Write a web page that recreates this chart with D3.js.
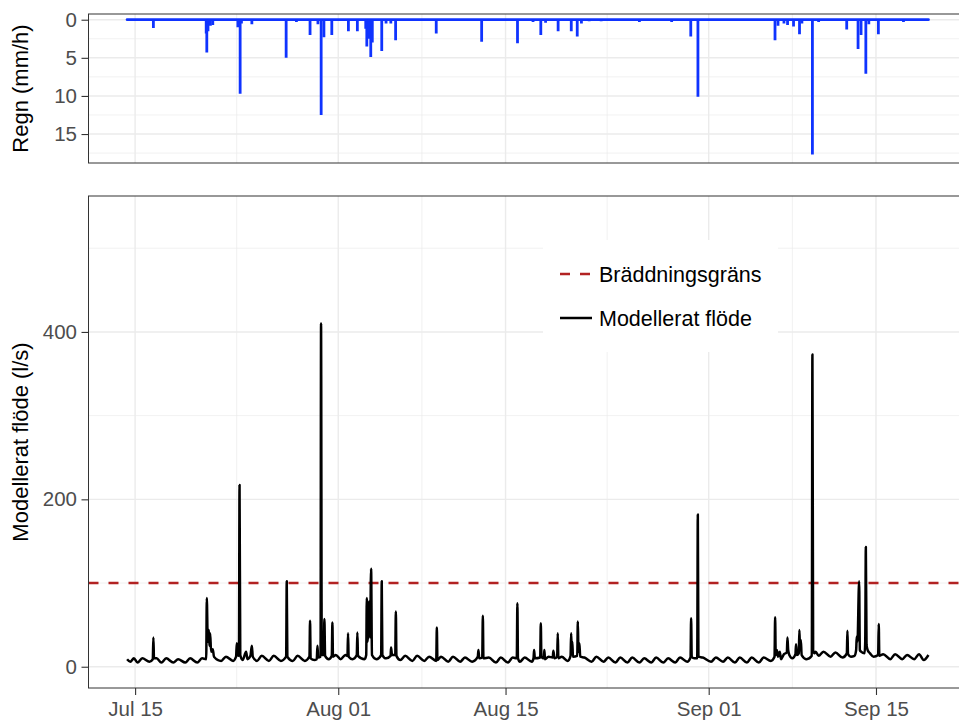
<!DOCTYPE html>
<html>
<head>
<meta charset="utf-8">
<script src="https://cdn.jsdelivr.net/npm/d3@7"></script>
<style>
  html, body { margin: 0; padding: 0; background: #fff; }
  svg { display: block; font-family: "Liberation Sans", Arial, Helvetica, sans-serif; }
</style>
</head>
<body>
<svg id="chart" width="959" height="722"></svg>
<script>
// Days counted from Jul 15 00:00
const rainSpan = [-0.67, 66.39];
// [day, mm/h]
const rainEvents = [
  [1.53, 1.1], [5.95, 1.8], [6.0, 4.3], [6.1, 1.5], [6.3, 0.8], [6.5, 0.7], [8.6, 1.0], [8.79, 9.7],
  [8.9, 0.5], [9.77, 0.6], [12.64, 5.0], [13.5, 0.3], [14.64, 2.0], [15.3, 0.6], [15.57, 12.5],
  [15.8, 2.3], [16.46, 2.0], [17.85, 1.5], [18.6, 1.5], [19.3, 1.2], [19.39, 3.5], [19.55, 2.5],
  [19.72, 4.9], [19.85, 3.0], [20.64, 4.1], [21.0, 0.5], [21.4, 0.5], [21.8, 2.7], [25.2, 1.8],
  [29.0, 2.9], [32.0, 3.1], [33.3, 0.3], [33.95, 2.0], [34.35, 0.4], [35.4, 1.5], [36.5, 1.5],
  [37.0, 2.2], [37.35, 0.5], [38.0, 0.2], [39.0, 0.2], [42.2, 0.3], [44.9, 0.3], [46.5, 2.2],
  [47.1, 10.1], [53.55, 2.7], [53.8, 0.8], [54.3, 0.5], [54.6, 0.7], [55.1, 0.9], [55.6, 1.9],
  [55.8, 0.5], [56.68, 17.7], [57.2, 0.3], [59.55, 1.3], [60.5, 3.85], [60.75, 2.0], [61.15, 7.1],
  [61.4, 0.6], [62.2, 1.9], [64.3, 0.3]
];
// [day, l/s]
const flowSeries = [
  [-0.67, 9], [-0.4, 6], [-0.1, 10], [0.2, 5], [0.6, 10],
  [1.2, 6], [1.48, 9], [1.53, 35], [1.58, 10], [1.8, 10], [2.2, 5], [2.6, 10], [3.2, 5], [3.6, 9],
  [4.2, 5], [4.6, 10], [5.2, 5], [5.6, 10],
  [5.95, 9], [6.0, 82], [6.08, 30], [6.17, 44], [6.22, 25], [6.28, 40], [6.36, 18], [6.5, 21], [6.6, 12],
  [7.2, 7], [7.6, 12], [8.2, 7], [8.45, 12], [8.51, 28], [8.6, 14], [8.69, 13], [8.74, 217], [8.8, 14],
  [9.0, 8], [9.29, 18], [9.4, 9], [9.65, 13], [9.77, 25], [9.85, 12],
  [10.2, 7], [10.6, 13], [11.2, 7], [11.6, 13], [12.2, 7], [12.64, 12], [12.69, 102], [12.74, 12],
  [13.2, 7], [13.6, 13], [14.2, 7], [14.59, 12], [14.64, 55], [14.69, 10], [15.0, 8], [15.2, 9],
  [15.26, 25], [15.32, 11], [15.52, 12], [15.56, 410], [15.62, 14], [15.79, 14], [15.84, 57], [15.9, 13],
  [16.2, 9], [16.46, 13], [16.51, 53], [16.56, 12], [16.8, 14], [17.2, 9], [17.6, 14], [17.77, 13],
  [17.82, 40], [17.87, 12], [18.2, 9], [18.55, 14], [18.6, 41], [18.65, 13],
  [19.2, 9], [19.34, 14], [19.39, 82], [19.45, 30], [19.58, 78], [19.66, 35], [19.75, 117], [19.82, 14],
  [20.2, 9], [20.59, 14], [20.64, 102], [20.69, 14], [21.0, 10], [21.38, 13], [21.42, 23], [21.5, 14],
  [21.77, 14], [21.82, 66], [21.87, 13],
  [22.2, 8], [22.6, 13], [23.2, 7], [23.6, 13], [24.2, 7], [24.6, 12], [25.2, 7], [25.25, 47], [25.3, 8],
  [25.6, 12], [26.2, 6], [26.6, 12], [27.2, 6], [27.6, 11], [28.2, 6], [28.68, 12], [28.73, 20], [28.8, 10],
  [29.05, 11], [29.1, 61], [29.15, 10], [29.6, 11], [30.2, 5], [30.6, 11],
  [31.2, 5], [31.6, 11], [31.94, 10], [31.99, 76], [32.04, 10], [32.2, 6], [32.6, 11],
  [33.2, 6], [33.34, 10], [33.39, 20], [33.45, 10], [33.9, 11], [33.95, 52], [34.0, 12], [34.2, 10],
  [34.25, 20], [34.3, 9], [34.6, 12], [34.95, 11], [35.0, 19], [35.1, 10], [35.32, 12], [35.37, 40],
  [35.42, 10], [35.7, 12], [36.2, 7], [36.44, 13], [36.49, 40], [36.54, 20], [36.59, 30], [36.64, 12],
  [37.0, 13], [37.05, 54], [37.1, 18], [37.18, 28], [37.25, 12], [37.6, 11],
  [38.2, 6], [38.6, 12], [39.2, 6], [39.6, 11], [40.2, 5], [40.6, 11], [41.2, 5], [41.6, 11],
  [42.2, 5], [42.6, 10], [43.2, 5], [43.6, 11], [44.2, 5], [44.6, 10], [45.2, 5], [45.6, 11],
  [46.2, 6], [46.48, 11], [46.53, 58], [46.58, 12], [46.8, 10], [47.04, 10], [47.09, 182], [47.14, 12],
  [47.5, 11], [48.2, 6], [48.6, 11], [49.2, 6], [49.6, 11], [50.2, 5], [50.6, 11], [51.2, 5], [51.6, 11],
  [52.2, 5], [52.6, 11],
  [53.2, 7], [53.51, 12], [53.56, 59], [53.61, 14], [53.7, 20], [53.8, 12], [53.95, 18], [54.05, 9],
  [54.3, 15], [54.54, 17], [54.59, 35], [54.65, 20], [54.75, 14], [55.0, 10], [55.26, 15], [55.31, 27],
  [55.38, 14], [55.54, 16], [55.59, 44], [55.65, 20], [55.71, 32], [55.78, 14], [56.2, 9],
  [56.63, 13], [56.68, 373], [56.74, 20], [56.85, 16], [56.95, 18],
  [57.2, 13], [57.6, 18], [58.2, 12], [58.6, 17], [59.2, 11], [59.56, 16], [59.61, 43], [59.66, 15],
  [59.9, 12], [60.2, 13], [60.34, 20], [60.39, 36], [60.45, 30], [60.59, 102], [60.65, 20], [60.75, 18],
  [61.05, 16], [61.1, 30], [61.15, 143], [61.21, 26], [61.3, 20], [61.5, 16], [61.8, 12],
  [62.18, 14], [62.23, 51], [62.28, 13], [62.6, 15], [63.2, 9], [63.6, 15], [64.2, 9], [64.6, 14],
  [65.2, 9], [65.6, 15], [66.0, 8], [66.39, 14]
];
const threshold = 100;
const xTickDays = [0, 17, 31, 48, 62];          // Jul 15, Aug 01, Aug 15, Sep 01, Sep 15
const xMinorDays = [8.5, 24, 39.5, 55, 69.5];
const rainTicks = [0, 5, 10, 15];
const rainMinor = [2.5, 7.5, 12.5, 17.5];
const flowTicks = [0, 200, 400];
const flowMinor = [100, 300, 500];
const legendItems = ["Bräddningsgräns", "Modellerat flöde"];

const START = Date.UTC(2023, 6, 15);
const toDate = d => new Date(START + d * 864e5);

const svg = d3.select('#chart');
const L = 88.5, R = 968;
const top1 = 14, bot1 = 163, top2 = 196, bot2 = 688;
const gridCol = '#ebebeb', tickCol = '#333', labCol = '#4d4d4d';
const font = '"Liberation Sans", Arial, Helvetica, sans-serif';
const rainCol = '#0f33ff';

const x = d3.scaleUtc().domain([toDate(-3.9), toDate(69.7)]).range([L, R]);
const yRain = d3.scaleLinear().domain([-0.75, 18.8]).range([top1, bot1]);
const yFlow = d3.scaleLinear().domain([562.4, -25.4]).range([top2, bot2]);

const defs = svg.append('defs');
defs.append('clipPath').attr('id', 'clip1').append('rect').attr('x', L).attr('y', top1).attr('width', R - L).attr('height', bot1 - top1);
defs.append('clipPath').attr('id', 'clip2').append('rect').attr('x', L).attr('y', top2).attr('width', R - L).attr('height', bot2 - top2);

function grid(g, yScale, major, minor, y0, y1) {
  minor.forEach(v => g.append('line').attr('x1', L).attr('x2', R).attr('y1', yScale(v)).attr('y2', yScale(v)).attr('stroke', gridCol).attr('stroke-width', 0.7));
  xMinorDays.forEach(d => g.append('line').attr('x1', x(toDate(d))).attr('x2', x(toDate(d))).attr('y1', y0).attr('y2', y1).attr('stroke', gridCol).attr('stroke-width', 0.7));
  major.forEach(v => g.append('line').attr('x1', L).attr('x2', R).attr('y1', yScale(v)).attr('y2', yScale(v)).attr('stroke', gridCol).attr('stroke-width', 1.4));
  xTickDays.forEach(d => g.append('line').attr('x1', x(toDate(d))).attr('x2', x(toDate(d))).attr('y1', y0).attr('y2', y1).attr('stroke', gridCol).attr('stroke-width', 1.4));
}

function styleAxis(g) {
  g.select('.domain').remove();
  g.selectAll('.tick line').attr('stroke', tickCol).attr('stroke-width', 1.1);
  g.selectAll('.tick text').attr('fill', labCol).style('font-size', '20.5px').style('font-family', font);
}

// ---- top panel: rain
const p1 = svg.append('g');
grid(p1, yRain, rainTicks, rainMinor, top1, bot1);
const r1 = p1.append('g').attr('clip-path', 'url(#clip1)');
r1.append('line').attr('x1', x(toDate(rainSpan[0]))).attr('x2', x(toDate(rainSpan[1])))
  .attr('y1', yRain(0)).attr('y2', yRain(0)).attr('stroke', rainCol).attr('stroke-width', 2.8).attr('stroke-linecap', 'round');
r1.selectAll('line.rain').data(rainEvents).join('line').attr('class', 'rain')
  .attr('x1', d => x(toDate(d[0]))).attr('x2', d => x(toDate(d[0])))
  .attr('y1', yRain(0)).attr('y2', d => yRain(d[1]))
  .attr('stroke', rainCol).attr('stroke-width', 2.8);
p1.append('rect').attr('x', L).attr('y', top1).attr('width', R - L).attr('height', bot1 - top1)
  .attr('fill', 'none').attr('stroke', tickCol).attr('stroke-width', 1);
p1.append('g').attr('transform', `translate(${L},0)`)
  .call(d3.axisLeft(yRain).tickValues(rainTicks).tickSize(7).tickPadding(4.5)).call(styleAxis);
svg.append('text').attr('transform', `translate(28,${(top1 + bot1) / 2}) rotate(-90)`)
  .attr('text-anchor', 'middle').style('font-size', '22px').attr('fill', '#000').text('Regn (mm/h)');

// ---- bottom panel: flow
const p2 = svg.append('g');
grid(p2, yFlow, flowTicks, flowMinor, top2, bot2);

// legend background
const lg = p2.append('g');
lg.append('rect').attr('x', 543).attr('y', 240).attr('width', 235).attr('height', 112).attr('fill', '#fff');

const r2 = p2.append('g').attr('clip-path', 'url(#clip2)');
r2.append('line').attr('x1', L).attr('x2', R).attr('y1', yFlow(threshold)).attr('y2', yFlow(threshold))
  .attr('stroke', '#b22222').attr('stroke-width', 2.4).attr('stroke-dasharray', '10,10');
const line = d3.line().x(d => x(toDate(d[0]))).y(d => yFlow(d[1])).curve(d3.curveMonotoneX);
r2.append('path').datum(flowSeries).attr('d', line).attr('fill', 'none')
  .attr('stroke', '#000').attr('stroke-width', 2.5).attr('stroke-linejoin', 'round');

p2.append('rect').attr('x', L).attr('y', top2).attr('width', R - L).attr('height', bot2 - top2)
  .attr('fill', 'none').attr('stroke', tickCol).attr('stroke-width', 1);
p2.append('g').attr('transform', `translate(${L},0)`)
  .call(d3.axisLeft(yFlow).tickValues(flowTicks).tickSize(7).tickPadding(4.5)).call(styleAxis);
p2.append('g').attr('transform', `translate(0,${bot2})`)
  .call(d3.axisBottom(x).tickValues(xTickDays.map(toDate)).tickFormat(d3.utcFormat('%b %d')).tickSize(7).tickPadding(6))
  .call(styleAxis);
svg.append('text').attr('transform', `translate(28,${(top2 + bot2) / 2}) rotate(-90)`)
  .attr('text-anchor', 'middle').style('font-size', '22px').attr('fill', '#000').text('Modellerat flöde (l/s)');

// legend keys
const rowY = [274, 318];
lg.append('line').attr('x1', 560).attr('x2', 592).attr('y1', rowY[0]).attr('y2', rowY[0])
  .attr('stroke', '#b22222').attr('stroke-width', 2.4).attr('stroke-dasharray', '10,10');
lg.append('line').attr('x1', 560).attr('x2', 592).attr('y1', rowY[1]).attr('y2', rowY[1])
  .attr('stroke', '#000').attr('stroke-width', 2.5);
lg.raise();
legendItems.forEach((t, i) => {
  lg.append('text').attr('x', 599).attr('y', rowY[i]).attr('dy', '0.36em')
    .style('font-size', '21.5px').attr('fill', '#000').text(t);
});
</script>
</body>
</html>
